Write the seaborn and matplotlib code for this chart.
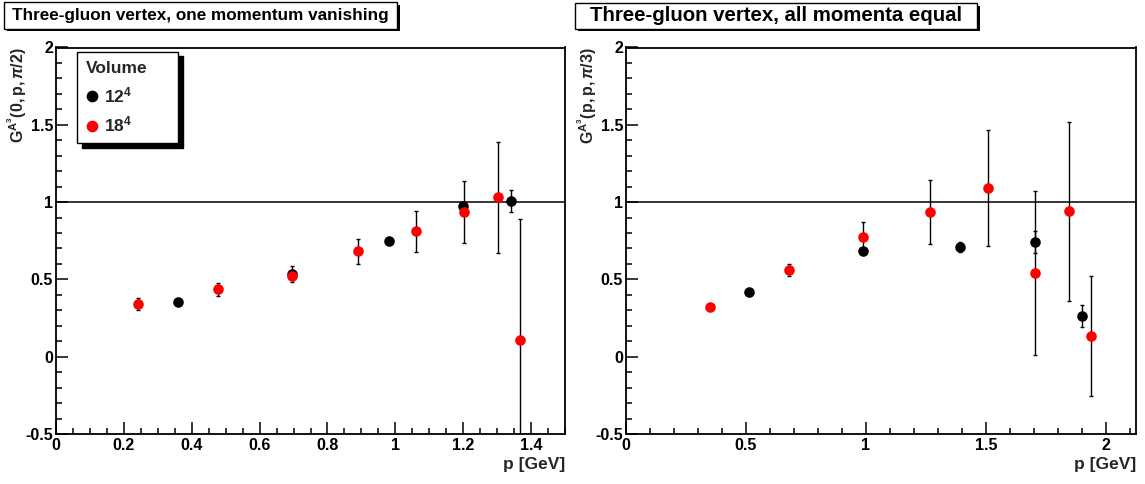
import matplotlib
matplotlib.use("Agg")
import matplotlib.pyplot as plt
import seaborn as sns
import numpy as np
from matplotlib.ticker import MultipleLocator, FuncFormatter
from matplotlib.lines import Line2D
from matplotlib.patches import Rectangle

# ---------------- data ----------------
# Left panel: one momentum vanishing
left_x_12 = [0.359, 0.695, 0.981, 1.200, 1.341]
left_y_12 = [0.356, 0.534, 0.746, 0.972, 1.009]
left_e_12 = [0.01, 0.05, 0.01, 0.03, 0.07]

left_x_18 = [0.241, 0.476, 0.695, 0.891, 1.062, 1.201, 1.303, 1.368]
left_y_18 = [0.340, 0.435, 0.524, 0.681, 0.810, 0.938, 1.030, 0.108]
left_e_18 = [0.04, 0.04, 0.02, 0.08, 0.13, 0.20, 0.36, 0.78]

# Right panel: all momenta equal
right_x_12 = [0.514, 0.986, 1.393, 1.703, 1.898]
right_y_12 = [0.420, 0.685, 0.710, 0.742, 0.264]
right_e_12 = [0.01, 0.01, 0.035, 0.07, 0.07]

right_x_18 = [0.349, 0.679, 0.986, 1.268, 1.508, 1.703, 1.847, 1.936]
right_y_18 = [0.322, 0.560, 0.774, 0.935, 1.090, 0.541, 0.940, 0.135]
right_e_18 = [0.01, 0.037, 0.095, 0.205, 0.377, 0.53, 0.58, 0.39]

titles = ["Three-gluon vertex, one momentum vanishing",
          "Three-gluon vertex, all momenta equal"]
ylabels = [r"$\mathbf{G^{A^{3}}(0,p,}\mathit{\pi}\mathbf{/2)}$",
           r"$\mathbf{G^{A^{3}}(p,p,}\mathit{\pi}\mathbf{/3)}$"]
xlabel = "p [GeV]"
legend_title = "Volume"
legend_labels = [r"$\mathbf{12^{4}}$", r"$\mathbf{18^{4}}$"]

# ---------------- style ----------------
sns.set_theme(style="ticks")
plt.rcParams.update({
    "font.family": ["Liberation Sans", "DejaVu Sans"],
    "font.weight": "bold",
    "mathtext.fontset": "custom",
    "mathtext.rm": "Liberation Sans",
    "mathtext.bf": "Liberation Sans:bold",
    "mathtext.it": "Liberation Sans:italic",
    "mathtext.sf": "Liberation Sans",
    "axes.linewidth": 1.3,
    "axes.edgecolor": "black",
    "xtick.color": "black",
    "ytick.color": "black",
})

W, H = 1145, 484
fig = plt.figure(figsize=(W / 100, H / 100), dpi=100)

def fx(px):
    return px / W

def fy(py):
    return 1 - py / H

ax_px = [(56, 565, 47.5, 434), (626, 1136, 47.5, 434)]
axes = []
for (x0, x1, y0, y1) in ax_px:
    axes.append(fig.add_axes([fx(x0), fy(y1), (x1 - x0) / W, (y1 - y0) / H]))

fmt = FuncFormatter(lambda v, p: "%g" % round(v, 3))

panels = [
    (left_x_12, left_y_12, left_e_12, left_x_18, left_y_18, left_e_18, 1.5, 0.2, 0.05),
    (right_x_12, right_y_12, right_e_12, right_x_18, right_y_18, right_e_18, 2.125, 0.5, 0.1),
]

for i, (ax, pd_) in enumerate(zip(axes, panels)):
    x12, y12, e12, x18, y18, e18, xmax, xmaj, xmin_ = pd_
    ax.axhline(1.0, color="black", lw=1.1, zorder=1)
    ax.errorbar(x12, y12, yerr=e12, fmt="none", ecolor="black", elinewidth=1.0,
                capsize=1.6, capthick=1.0, zorder=2)
    sns.scatterplot(x=x12, y=y12, ax=ax, color="black", s=58, linewidth=0, zorder=3)
    ax.errorbar(x18, y18, yerr=e18, fmt="none", ecolor="black", elinewidth=1.0,
                capsize=1.6, capthick=1.0, zorder=4)
    sns.scatterplot(x=x18, y=y18, ax=ax, color="#ff0000", s=58, linewidth=0, zorder=5)

    ax.set_xlim(0, xmax)
    ax.set_ylim(-0.5, 2.0)
    ax.xaxis.set_major_locator(MultipleLocator(xmaj))
    ax.xaxis.set_minor_locator(MultipleLocator(xmin_))
    ax.yaxis.set_major_locator(MultipleLocator(0.5))
    ax.yaxis.set_minor_locator(MultipleLocator(0.1))
    ax.xaxis.set_major_formatter(fmt)
    ax.yaxis.set_major_formatter(fmt)
    ax.tick_params(which="both", direction="in", top=False, right=False,
                   width=1.1, colors="black")
    ax.tick_params(which="major", length=8.6, labelsize=11.5, pad=2)
    ax.tick_params(axis="x", which="major", pad=3)
    ax.tick_params(which="minor", length=4.3)
    for lab in ax.get_xticklabels() + ax.get_yticklabels():
        lab.set_fontweight("bold")
    for s in ax.spines.values():
        s.set_visible(True)
        s.set_color("black")

    ax.set_xlabel(xlabel, loc="right", fontsize=12.5, fontweight="bold", labelpad=3)
    ax.set_ylabel(ylabels[i], loc="top", fontsize=11.5)

axes[0].yaxis.set_label_coords(-0.053, 1.0)
axes[1].yaxis.set_label_coords(-0.052, 1.0)

# legend (fixed-width box like ROOT's TLegend)
handles = [Line2D([], [], marker="o", ls="none", color="black", markersize=7.4),
           Line2D([], [], marker="o", ls="none", color="#ff0000", markersize=7.4)]
leg = axes[0].legend(handles, legend_labels, title=legend_title, loc="upper left",
                     bbox_to_anchor=(0.0413, 0.753, 0.198, 0.235), mode="expand",
                     borderaxespad=0,
                     frameon=True, fancybox=False, edgecolor="black", framealpha=1,
                     shadow={"color": "black", "alpha": 1, "ox": 3.5, "oy": -3},
                     alignment="left", handlelength=0.7, handletextpad=0.35,
                     labelspacing=0.55, borderpad=0.5,
                     prop={"size": 12.5, "weight": "bold"},
                     title_fontproperties={"size": 12.5, "weight": "bold"})
leg.get_frame().set_linewidth(1.0)

# title boxes (ROOT style with shadow)
title_boxes = [(4, 397, 2.5, 28.5, 12.3), (575, 977, 3, 28.5, 14.7)]
for (x0, x1, y0, y1, fs), t in zip(title_boxes, titles):
    sh = Rectangle((fx(x0 + 3), fy(y1 + 2.5)), (x1 - x0) / W, (y1 - y0) / H,
                   transform=fig.transFigure, facecolor="black", edgecolor="black", lw=0)
    bx = Rectangle((fx(x0), fy(y1)), (x1 - x0) / W, (y1 - y0) / H,
                   transform=fig.transFigure, facecolor="white", edgecolor="black", lw=1.0)
    fig.add_artist(sh)
    fig.add_artist(bx)
    fig.text(fx((x0 + x1) / 2), fy((y0 + y1) / 2), t, ha="center", va="center",
             fontsize=fs, fontweight="bold", color="black")

fig.savefig("out.png", dpi=100)
